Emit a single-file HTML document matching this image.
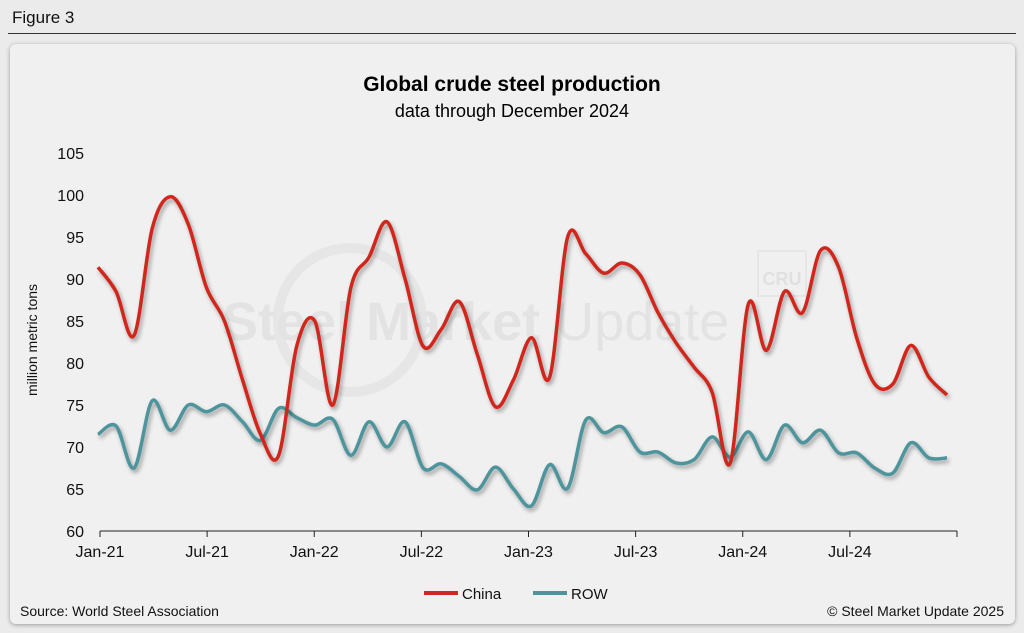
<!DOCTYPE html>
<html><head><meta charset="utf-8">
<style>
body{margin:0;width:1024px;height:633px;background:#ebebeb;font-family:"Liberation Sans",Arial,sans-serif;overflow:hidden;position:relative}
#fig{position:absolute;left:12px;top:8px;font-size:17px;color:#111}
#rule{position:absolute;left:8px;right:8px;top:33px;height:1px;background:#333}
#card{position:absolute;left:10px;top:44px;width:1005px;height:580px;background:#f0f0f0;border-radius:6px;box-shadow:0 1px 4px rgba(0,0,0,.35)}
</style></head><body>
<div id="fig">Figure 3</div>
<div id="rule"></div>
<div id="card"></div>
<svg id="chart" width="1024" height="633" style="position:absolute;left:0;top:0">
<defs><filter id="sh" x="-5%" y="-5%" width="110%" height="120%"><feDropShadow dx="2" dy="3" stdDeviation="2" flood-color="#000" flood-opacity="0.35"/></filter></defs>
<text x="512" y="91" text-anchor="middle" font-size="21" font-weight="bold" fill="#000">Global crude steel production</text>
<text x="512" y="117" text-anchor="middle" font-size="18" fill="#000">data through December 2024</text>
<circle cx="350" cy="320" r="72" fill="none" stroke="#e6e6e6" stroke-width="10"/>
<text x="222" y="340" font-size="54" fill="#e3e3e3"><tspan font-weight="bold">Steel Market</tspan> Update</text>
<rect x="758" y="251" width="48" height="45" fill="none" stroke="#e3e3e3" stroke-width="1.5"/>
<text x="782" y="285" text-anchor="middle" font-size="18" font-weight="bold" fill="#e0e0e0">CRU</text>
<text transform="translate(37,340) rotate(-90)" text-anchor="middle" font-size="14" fill="#111">million metric tons</text>
<g id="yt"></g><g id="xt"></g><g id="lines"></g>
<line x1="100" y1="531" x2="957" y2="531" stroke="#222" stroke-width="1"/>
<line x1="424" y1="593" x2="458" y2="593" stroke="#d0281e" stroke-width="4"/>
<text x="462" y="599" font-size="15" fill="#111">China</text>
<line x1="533" y1="593" x2="567" y2="593" stroke="#4e949c" stroke-width="4"/>
<text x="571" y="599" font-size="15" fill="#111">ROW</text>
<text x="20" y="616" font-size="14" fill="#111">Source: World Steel Association</text>
<text x="1004" y="616" text-anchor="end" font-size="14" fill="#111">© Steel Market Update 2025</text>
</svg>
<script>
const yTicks=[60,65,70,75,80,85,90,95,100,105];
const xLabels=["Jan-21","Jul-21","Jan-22","Jul-22","Jan-23","Jul-23","Jan-24","Jul-24"];
const xLabelIdx=[0,6,12,18,24,30,36,42];
const china=[91.4,88.5,83.3,96,99.8,96.5,89,85,78,71.5,69,82,85,75,89,92.6,96.8,90,82,84,87.3,81,74.8,78,83,78.3,95,93,90.7,91.9,90.5,86,82.4,79.5,76.5,68.1,87,81.5,88.5,86,93.4,91.4,83,77.5,77.5,82.1,78.3,76.2];
const row=[71.5,72.5,67.5,75.5,72,75,74.2,75,73,70.8,74.6,73.5,72.6,73.3,69,73,70,73,67.5,68,66.5,64.9,67.6,65,63,67.9,65.1,73.2,71.7,72.4,69.4,69.4,68.1,68.5,71.2,68.8,71.8,68.5,72.6,70.5,72,69.3,69.3,67.5,66.9,70.5,68.7,68.7];
const NS="http://www.w3.org/2000/svg";
const x=i=>98+i*(849/47);
const y=v=>531-(v-60)*(378/45);
function mk(tag,attrs,parent){const e=document.createElementNS(NS,tag);for(const k in attrs)e.setAttribute(k,attrs[k]);parent.appendChild(e);return e;}
const yt=document.getElementById('yt');
yTicks.forEach(v=>{const t=mk('text',{x:84,y:y(v)+6,'text-anchor':'end','font-size':16,fill:'#111'},yt);t.textContent=v;

});
const xt=document.getElementById('xt');
xLabels.forEach((l,k)=>{const xi=100+xLabelIdx[k]*(857/48);
const ln=mk('line',{x1:xi,y1:531,x2:xi,y2:537,stroke:'#222'},xt);


const t=mk('text',{x:xi,y:557,'text-anchor':'middle','font-size':16,fill:'#111'},xt);t.textContent=l;

});
{const ln=mk('line',{x1:957,y1:531,x2:957,y2:537,stroke:'#222'},xt);

}
function path(d){const p=d.map((v,i)=>[x(i),y(v)]);let s=`M${p[0][0]},${p[0][1]}`;
for(let i=0;i<p.length-1;i++){const p0=p[i-1]||p[i],p1=p[i],p2=p[i+1],p3=p[i+2]||p2;
s+=` C${p1[0]+(p2[0]-p0[0])/6},${p1[1]+(p2[1]-p0[1])/6} ${p2[0]-(p3[0]-p1[0])/6},${p2[1]-(p3[1]-p1[1])/6} ${p2[0]},${p2[1]}`;}return s;}
const lg=document.getElementById('lines');
const rp=mk('path',{d:path(row),fill:'none',stroke:'#4e949c','stroke-width':3.5,filter:'url(#sh)'},lg);


const cp=mk('path',{d:path(china),fill:'none',stroke:'#d0281e','stroke-width':3.5,filter:'url(#sh)'},lg);


</script>
</body></html>
